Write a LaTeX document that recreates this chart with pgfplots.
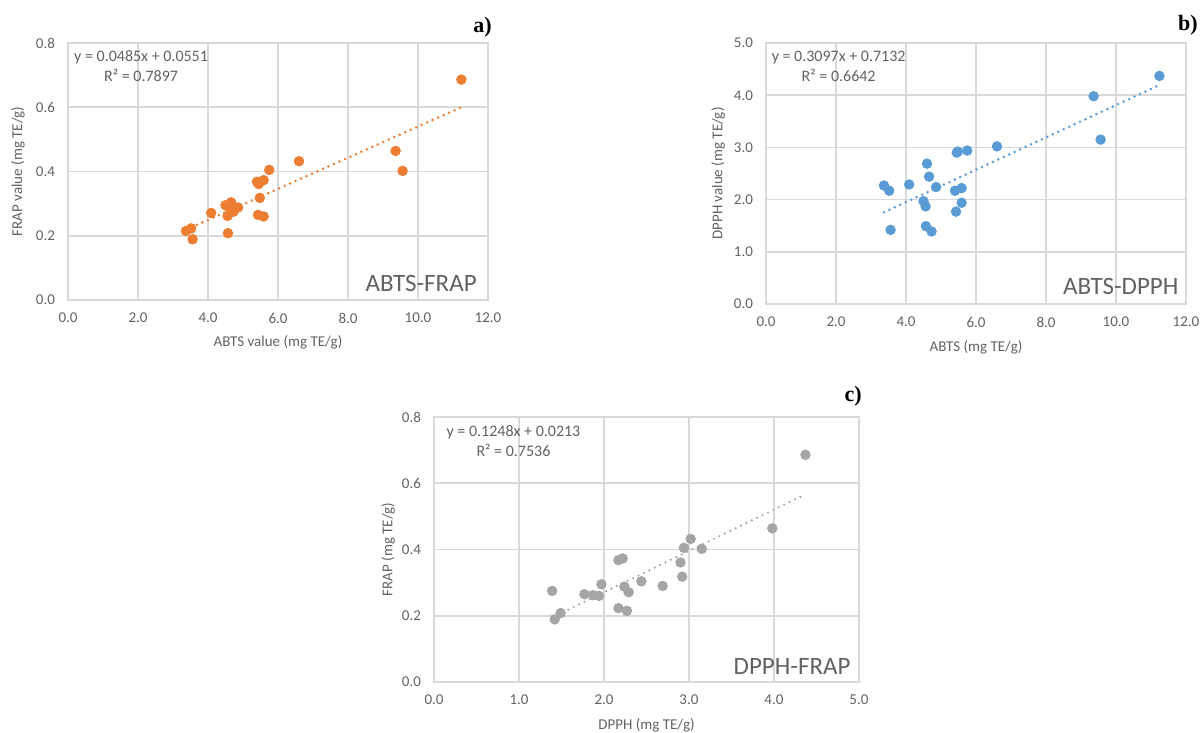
\documentclass[border=0pt]{standalone}
\usepackage{fontspec}
\setmainfont{Carlito}
\newfontfamily\panelfont{Liberation Serif}
\usepackage{pgfplots}
\usepackage{pgfplotstable}
\pgfplotsset{compat=1.18}

\definecolor{xlOrange}{RGB}{237,125,49}
\definecolor{xlBlue}{RGB}{91,155,213}
\definecolor{xlGray}{RGB}{165,165,165}
\definecolor{gridGray}{RGB}{217,217,217}
\definecolor{textGray}{RGB}{98,98,98}

% one row per sample: ABTS, DPPH, FRAP (mg TE/g)
\pgfplotstableread{
abts  dpph  frap
3.37  2.27  0.215
3.52  2.17  0.223
3.56  1.42  0.189
4.09  2.29  0.271
4.50  1.97  0.295
4.56  1.87  0.262
4.57  1.49  0.208
4.60  2.69  0.290
4.66  2.44  0.304
4.73  1.39  0.275
4.86  2.24  0.288
5.40  2.17  0.368
5.43  1.77  0.265
5.45  2.90  0.361
5.48  2.92  0.318
5.59  2.22  0.373
5.59  1.94  0.260
5.75  2.94  0.405
6.60  3.02  0.432
9.36  3.98  0.464
9.56  3.15  0.402
11.24 4.37  0.686
}\samples

\pgfplotsset{
  xlchart/.style={
    scale only axis,
    anchor=south west,
    clip=false,
    axis line style={gridGray, line width=0.8pt},
    grid=major,
    grid style={gridGray, line width=0.8pt},
    major tick length=0pt,
    tick label style={font=\fontsize{7.5}{9}\selectfont, text=textGray},
    label style={font=\fontsize{7.5}{9}\selectfont, text=textGray},
    xticklabel style={yshift=-3pt, /pgf/number format/fixed,
      /pgf/number format/fixed zerofill, /pgf/number format/precision=1,
      /pgf/number format/assume math mode=true},
    yticklabel style={xshift=-3pt, /pgf/number format/fixed,
      /pgf/number format/fixed zerofill, /pgf/number format/precision=1,
      /pgf/number format/assume math mode=true},
  },
}
\tikzset{
  eqn/.style={anchor=north, align=center, inner sep=0pt,
    font=\fontsize{8}{10}\selectfont, text=textGray},
  tag/.style={anchor=south east, inner sep=0pt,
    font=\fontsize{12.5}{14}\selectfont, text=textGray},
  trend/.style={line width=1.4pt, line cap=round, dash pattern=on 0pt off 3pt},
  panel/.style={anchor=east, inner sep=0pt,
    font=\panelfont\bfseries\fontsize{11}{13}\selectfont},
}

\begin{document}
\begin{tikzpicture}
\path[use as bounding box] (0,0) rectangle (600.5pt,-366.5pt);

% a) ABTS vs FRAP
\begin{axis}[xlchart,
  at={(34pt,-150pt)}, width=210pt, height=128.5pt,
  xmin=0, xmax=12, xtick={0,2,4,6,8,10,12},
  ymin=0, ymax=0.8, ytick={0,0.2,0.4,0.6,0.8},
  xlabel={ABTS value (mg TE/g)},
  ylabel={FRAP value (mg TE/g)},
  xlabel style={at={(rel axis cs:0.5,-0.163)}, anchor=center},
  ylabel style={at={(rel axis cs:-0.119,0.5)}, anchor=center},
]
\addplot[xlOrange, trend] coordinates {(3.37,0.2185) (11.24,0.6002)};
\addplot[only marks, mark=*, mark size=2.4pt, xlOrange] table[x=abts, y=frap] {\samples};
\node[eqn] at (rel axis cs:0.174,0.972) {y = 0.0485x + 0.0551\\R² = 0.7897};
\node[tag] at (rel axis cs:0.974,0.03) {ABTS-FRAP};
\end{axis}

% b) ABTS vs DPPH
\begin{axis}[xlchart,
  at={(383pt,-152pt)}, width=210pt, height=130.5pt,
  xmin=0, xmax=12, xtick={0,2,4,6,8,10,12},
  ymin=0, ymax=5, ytick={0,1,2,3,4,5},
  xlabel={ABTS  (mg TE/g)},
  ylabel={DPPH value (mg TE/g)},
  xlabel style={at={(rel axis cs:0.5,-0.165)}, anchor=center},
  ylabel style={at={(rel axis cs:-0.114,0.5)}, anchor=center},
]
\addplot[xlBlue, trend] coordinates {(3.37,1.7569) (11.24,4.1942)};
\addplot[only marks, mark=*, mark size=2.4pt, xlBlue] table[x=abts, y=dpph] {\samples};
\node[eqn] at (rel axis cs:0.173,0.972) {y = 0.3097x + 0.7132\\R² = 0.6642};
\node[tag] at (rel axis cs:0.983,0.034) {ABTS-DPPH};
\end{axis}

% c) DPPH vs FRAP
\begin{axis}[xlchart,
  at={(217pt,-341pt)}, width=212.5pt, height=132.5pt,
  xmin=0, xmax=5, xtick={0,1,2,3,4,5},
  ymin=0, ymax=0.8, ytick={0,0.2,0.4,0.6,0.8},
  xlabel={DPPH (mg TE/g)},
  ylabel={FRAP  (mg TE/g)},
  xlabel style={at={(rel axis cs:0.5,-0.162)}, anchor=center},
  ylabel style={at={(rel axis cs:-0.108,0.5)}, anchor=center},
]
\addplot[xlGray, trend, line width=1.2pt] coordinates {(1.39,0.1948) (4.37,0.5667)};
\addplot[only marks, mark=*, mark size=2.4pt, xlGray] table[x=dpph, y=frap] {\samples};
\node[eqn] at (rel axis cs:0.187,0.97) {y = 0.1248x + 0.0213\\R² = 0.7536};
\node[tag] at (rel axis cs:0.981,0.026) {DPPH-FRAP};
\end{axis}

\node[panel] at (246pt,-13.5pt) {a)};
\node[panel] at (599pt,-12.5pt) {b)};
\node[panel] at (431pt,-198pt) {c)};
\end{tikzpicture}
\end{document}
